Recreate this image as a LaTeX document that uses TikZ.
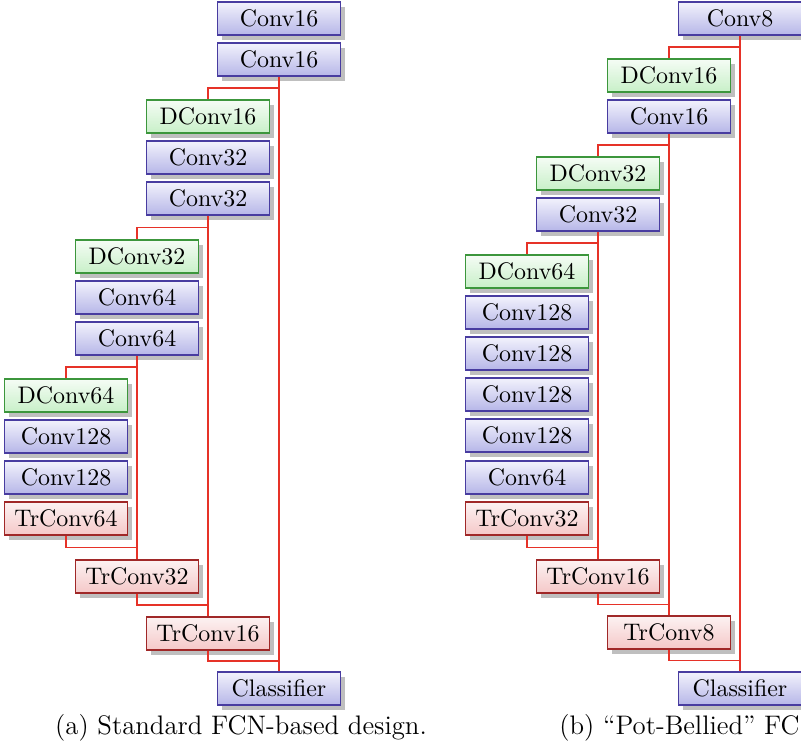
\documentclass[tikz,border=0pt]{standalone}
\definecolor{fcnBlue}{RGB}{72,60,160}
\definecolor{fcnBlueTop}{RGB}{242,242,252}
\definecolor{fcnBlueLow}{RGB}{182,182,232}
\definecolor{fcnGreen}{RGB}{60,150,60}
\definecolor{fcnGreenTop}{RGB}{245,252,245}
\definecolor{fcnGreenLow}{RGB}{200,240,200}
\definecolor{fcnRed}{RGB}{160,40,40}
\definecolor{fcnRedTop}{RGB}{252,242,242}
\definecolor{fcnRedLow}{RGB}{245,200,200}
\definecolor{fcnSkip}{RGB}{230,50,40}
\usepackage{tikz}
\usetikzlibrary{shadows,calc}

\tikzset{
  layerbox/.style={rectangle, line width=0.6pt, minimum width=51.4pt,
    minimum height=13.8pt, inner sep=2pt,
    drop shadow={shadow xshift=2pt, shadow yshift=-2pt, fill=black!25, opacity=1}},
  convbox/.style={layerbox, draw=fcnBlue, top color=fcnBlueTop, bottom color=fcnBlueLow},
  dconvbox/.style={layerbox, draw=fcnGreen, top color=fcnGreenTop, bottom color=fcnGreenLow},
  trconvbox/.style={layerbox, draw=fcnRed, top color=fcnRedTop, bottom color=fcnRedLow},
  skipline/.style={draw=fcnSkip, line width=0.6pt},
  subcap/.style={font=\fontsize{11.2}{13}\selectfont}
}

\begin{document}
\begin{tikzpicture}[x=0.418pt, y=-0.418pt]
  \useasboundingbox (0,0) rectangle (801,750);

  % (a) standard FCN
  \node[convbox] (a16a) at (279,18.5) {Conv16};
  \node[convbox] (a16b) at (279,59.5) {Conv16};
  \node[dconvbox] (ad16) at (208,116.5) {DConv16};
  \node[convbox] (a32a) at (208,157.5) {Conv32};
  \node[convbox] (a32b) at (208,198.5) {Conv32};
  \node[dconvbox] (ad32) at (137,256.5) {DConv32};
  \node[convbox] (a64a) at (137,297.5) {Conv64};
  \node[convbox] (a64b) at (137,338.5) {Conv64};
  \node[dconvbox] (ad64) at (66,395.5) {DConv64};
  \node[convbox] (a128a) at (66,436.5) {Conv128};
  \node[convbox] (a128b) at (66,477.5) {Conv128};
  \node[trconvbox] (atr64) at (66,518.5) {TrConv64};
  \node[trconvbox] (atr32) at (137,576.5) {TrConv32};
  \node[trconvbox] (atr16) at (208,633.5) {TrConv16};
  \node[convbox] (acls) at (279,688.5) {Classifier};

  \draw[skipline] (a16b.south) -- (acls.north);
  \draw[skipline] (a32b.south) -- (atr16.north);
  \draw[skipline] (a64b.south) -- (atr32.north);
  \draw[skipline] (ad16.north) |- ($(ad16.north)!.5!(a16b.south)$) -| (a16b.south);
  \draw[skipline] (ad32.north) |- ($(ad32.north)!.5!(a32b.south)$) -| (a32b.south);
  \draw[skipline] (ad64.north) |- ($(ad64.north)!.5!(a64b.south)$) -| (a64b.south);
  \draw[skipline] (atr64.south) |- ($(atr64.south)!.5!(atr32.north)$) -| (atr32.north);
  \draw[skipline] (atr32.south) |- ($(atr32.south)!.5!(atr16.north)$) -| (atr16.north);
  \draw[skipline] (atr16.south) |- ($(atr16.south)!.5!(acls.north)$) -| (acls.north);

  \node[subcap] (acap) at (241,728) {(a) Standard FCN-based design.};

  % (b) pot-bellied FCN
  \node[convbox] (b8) at (740,18.5) {Conv8};
  \node[dconvbox] (bd16) at (669,75.5) {DConv16};
  \node[convbox] (b16) at (669,116.5) {Conv16};
  \node[dconvbox] (bd32) at (598,173.5) {DConv32};
  \node[convbox] (b32) at (598,214.5) {Conv32};
  \node[dconvbox] (bd64) at (527,271.5) {DConv64};
  \node[convbox] (b128a) at (527,312.5) {Conv128};
  \node[convbox] (b128b) at (527,353.5) {Conv128};
  \node[convbox] (b128c) at (527,394.5) {Conv128};
  \node[convbox] (b128d) at (527,435.5) {Conv128};
  \node[convbox] (b64) at (527,477.5) {Conv64};
  \node[trconvbox] (btr32) at (527,518.5) {TrConv32};
  \node[trconvbox] (btr16) at (598,576.5) {TrConv16};
  \node[trconvbox] (btr8) at (669,632.5) {TrConv8};
  \node[convbox] (bcls) at (740,688.5) {Classifier};

  \draw[skipline] (b8.south) -- (bcls.north);
  \draw[skipline] (b16.south) -- (btr8.north);
  \draw[skipline] (b32.south) -- (btr16.north);
  \draw[skipline] (bd16.north) |- ($(bd16.north)!.5!(b8.south)$) -| (b8.south);
  \draw[skipline] (bd32.north) |- ($(bd32.north)!.5!(b16.south)$) -| (b16.south);
  \draw[skipline] (bd64.north) |- ($(bd64.north)!.5!(b32.south)$) -| (b32.south);
  \draw[skipline] (btr32.south) |- ($(btr32.south)!.5!(btr16.north)$) -| (btr16.north);
  \draw[skipline] (btr16.south) |- ($(btr16.south)!.5!(btr8.north)$) -| (btr8.north);
  \draw[skipline] (btr8.south) |- ($(btr8.south)!.5!(bcls.north)$) -| (bcls.north);

  \node[subcap, anchor=east, inner xsep=0pt] (bcap) at (800,728) {(b) ``Pot-Bellied'' FC};
\end{tikzpicture}
\end{document}
